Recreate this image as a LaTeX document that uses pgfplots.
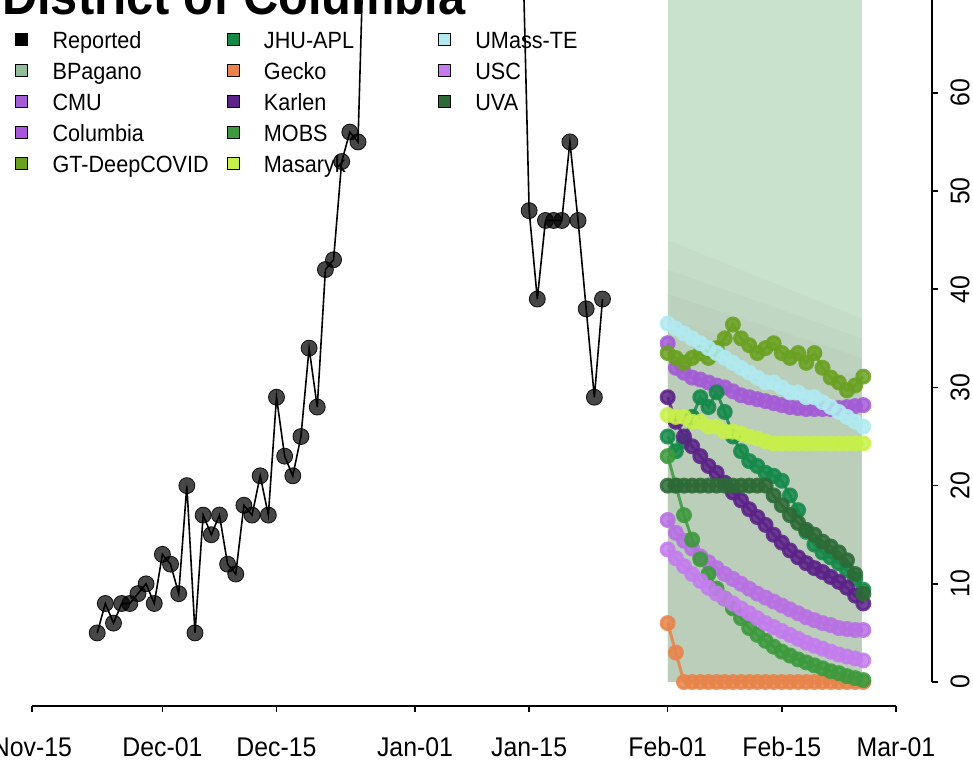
\documentclass[border=0pt]{standalone}
\usepackage{fontspec}
\setmainfont{Liberation Sans}[FakeStretch=0.92]
\usepackage{pgfplots}
\pgfplotsset{compat=1.18}

\definecolor{cBPag}{HTML}{93BD98}
\definecolor{cCMU}{HTML}{A35CD6}
\definecolor{cCol}{HTML}{A857DB}
\definecolor{cColL}{HTML}{B870E4}
\definecolor{cGT}{HTML}{6AA121}
\definecolor{cJHU}{HTML}{15894A}
\definecolor{cGecko}{HTML}{E8844A}
\definecolor{cKarlen}{HTML}{5B2288}
\definecolor{cMOBS}{HTML}{3D9A3D}
\definecolor{cMas}{HTML}{C8F04A}
\definecolor{cUMass}{HTML}{B0EAF0}
\definecolor{cUSC}{HTML}{C47CEE}
\definecolor{cUVA}{HTML}{2D6A36}
\definecolor{bandtop}{HTML}{C8E2CE}
\definecolor{bandlow}{HTML}{A8B49F}

\newcommand{\E}[1]{\makebox[199pt][l]{\hspace*{25pt}\rule[-3pt]{0pt}{23pt}\smash{#1}}}

\begin{document}
\begin{tikzpicture}[x=1pt,y=1pt]
\useasboundingbox (0,0) rectangle (973,772);
\clip (0,0) rectangle (973,772);
\begin{axis}[
  at={(32pt,66pt)}, anchor=south west,
  width=900pt, height=706pt, scale only axis,
  xmin=0, xmax=110.43, ymin=-2.44, ymax=69.45,
  clip=false,
  axis line style={draw=none},
  xtick={0,16,30,47,61,78,92,106},
  xticklabels={Nov-15,Dec-01,Dec-15,Jan-01,Jan-15,Feb-01,Feb-15,Mar-01},
  ytick={0,10,20,30,40,50,60},
  yticklabels={0,10,20,30,40,50,60},
  xtick pos=left, ytick pos=right,
  xticklabel pos=left, yticklabel pos=right,
  tick align=outside, major tick length=6pt,
  tick style={black, line width=1.5pt},
  xticklabel style={font=\fontsize{27}{27}\selectfont, anchor=center, yshift=-35pt},
  yticklabel style={font=\fontsize{27}{27}\selectfont, anchor=center, xshift=22pt, rotate=90},
  legend columns=3,
  legend cell align=left,
  legend style={at={(axis description cs:-0.0189,0.9600)}, anchor=north west,
    draw=none, fill=none, inner sep=0pt, column sep=0pt, row sep=9.5pt,
    nodes={inner sep=0pt}, font=\fontsize{23.5}{23.5}\selectfont},
  legend image code/.code={\fill[#1] (0pt,-6pt) rectangle (12pt,6pt);},
]
% forecast shading
\addplot[draw=none, fill=bandtop, forget plot] coordinates {(78,0) (101.8,0) (101.8,69.45) (78,69.45)};
\addplot[draw=none, fill=bandlow, fill opacity=0.12, forget plot] coordinates {(78,0) (101.8,0) (101.8,37) (78,45)};
\addplot[draw=none, fill=bandlow, fill opacity=0.12, forget plot] coordinates {(78,0) (101.8,0) (101.8,35) (78,42)};
\addplot[draw=none, fill=bandlow, fill opacity=0.12, forget plot] coordinates {(78,0) (101.8,0) (101.8,33) (78,39.5)};
\addplot[draw=none, fill=bandlow, fill opacity=0.12, forget plot] coordinates {(78,0) (101.8,0) (101.8,31) (78,37)};

% reported
\addplot[black, line width=1.6pt, mark=*, mark size=8pt,
  mark options={fill=black, fill opacity=0.72, draw=black, draw opacity=0.9, line width=0.8pt}, forget plot]
coordinates {
(8,5) (9,8) (10,6) (11,8) (12,8) (13,9) (14,10) (15,8) (16,13) (17,12) (18,9) (19,20) (20,5)
(21,17) (22,15) (23,17) (24,12) (25,11) (26,18) (27,17) (28,21) (29,17) (30,29) (31,23) (32,21)
(33,25) (34,34) (35,28) (36,42) (37,43) (38,53) (39,56) (40,55) (41,84) (60,82)
(61,48) (62,39) (63,47) (64,47) (65,47) (66,55) (67,47) (68,38) (69,29) (70,39)
};

% forecasts
\addplot[cCMU, line width=3pt, mark=*, mark size=6.5pt, opacity=0.85, forget plot] coordinates {
(78,34.5) (79,32) (80,31.5) (81,31) (82,30.8) (83,30.5) (84,30.2) (85,30) (86,29.6) (87,29.2)
(88,29) (89,28.8) (90,28.6) (91,28.4) (92,28.2) (93,28) (94,27.9) (95,27.8) (96,27.8) (97,27.8)
(98,27.8) (99,27.9) (100,28) (101,28.1) (102,28.2)};
\addplot[cColL, line width=3pt, mark=*, mark size=6.5pt, opacity=0.85, forget plot] coordinates {
(78,16.5) (79,15.2) (80,14.4) (81,13.6) (82,12.8) (83,12.2) (84,11.6) (85,11) (86,10.5) (87,10)
(88,9.5) (89,9) (90,8.6) (91,8.2) (92,7.8) (93,7.4) (94,7) (95,6.6) (96,6.3) (97,6)
(98,5.8) (99,5.5) (100,5.4) (101,5.3) (102,5.3)};
\addplot[cGT, line width=3pt, mark=*, mark size=6.5pt, opacity=0.85, forget plot] coordinates {
(78,33.5) (79,33) (80,32.5) (81,33) (82,33.5) (83,33) (84,34) (85,35) (86,36.4) (87,35)
(88,34.3) (89,33.5) (90,34) (91,34.5) (92,33.5) (93,33) (94,33.5) (95,32.5) (96,33.5) (97,32)
(98,31) (99,30.5) (100,29.7) (101,30.2) (102,31.1)};
\addplot[cJHU, line width=3pt, mark=*, mark size=6.5pt, opacity=0.85, forget plot] coordinates {
(78,25) (79,23.5) (80,24.5) (81,27) (82,29) (83,28) (84,29.5) (85,27.5) (86,25) (87,23.5)
(88,22.5) (89,22) (90,21.3) (91,21) (92,20.5) (93,19) (94,17.5) (95,15.3) (96,14) (97,13.2)
(98,12.7) (99,12.1) (100,11.4) (101,10.5) (102,9.4)};
\addplot[cGecko, line width=3pt, mark=*, mark size=6.5pt, opacity=0.85, forget plot] coordinates {
(78,6) (79,3) (80,0) (81,0) (82,0) (83,0) (84,0) (85,0) (86,0) (87,0)
(88,0) (89,0) (90,0) (91,0) (92,0) (93,0) (94,0) (95,0) (96,0) (97,0)
(98,0) (99,0) (100,0) (101,0) (102,0)};
\addplot[cKarlen, line width=3pt, mark=*, mark size=6.5pt, opacity=0.85, forget plot] coordinates {
(78,29) (79,26.5) (80,25) (81,24) (82,23) (83,22) (84,21.3) (85,20.3) (86,19.3) (87,18.5)
(88,17.6) (89,16.8) (90,16) (91,15) (92,14.2) (93,13.4) (94,12.7) (95,12.1) (96,11.6) (97,11.2)
(98,10.7) (99,10.2) (100,9.6) (101,8.8) (102,8)};
\addplot[cMOBS, line width=3pt, mark=*, mark size=6.5pt, opacity=0.85, forget plot] coordinates {
(78,23) (79,20) (80,17) (81,14.5) (82,12.5) (83,11) (84,9.5) (85,8.5) (86,7.5) (87,6.5)
(88,5.5) (89,4.8) (90,4.2) (91,3.6) (92,3.1) (93,2.7) (94,2.3) (95,2) (96,1.7) (97,1.4)
(98,1.1) (99,0.9) (100,0.6) (101,0.4) (102,0.2)};
\addplot[cMas, line width=3pt, mark=*, mark size=6.5pt, opacity=0.85, forget plot] coordinates {
(78,27.2) (79,27) (80,27) (81,26.5) (82,26.5) (83,26) (84,26) (85,25.5) (86,25.5) (87,25.3)
(88,25) (89,24.8) (90,24.5) (91,24.3) (92,24.3) (93,24.3) (94,24.3) (95,24.3) (96,24.3) (97,24.3)
(98,24.3) (99,24.3) (100,24.3) (101,24.3) (102,24.3)};
\addplot[cUMass, line width=3pt, mark=*, mark size=6.5pt, opacity=0.85, forget plot] coordinates {
(78,36.5) (79,36) (80,35.5) (81,35) (82,34.5) (83,34) (84,33.5) (85,33) (86,32.5) (87,32)
(88,31.5) (89,31) (90,30.5) (91,30.5) (92,30) (93,29.5) (94,29.5) (95,29) (96,29) (97,28.5)
(98,28) (99,27.5) (100,27) (101,26.5) (102,26)};
\addplot[cUSC, line width=3pt, mark=*, mark size=6.5pt, opacity=0.85, forget plot] coordinates {
(78,13.5) (79,12.6) (80,11.8) (81,11) (82,10.3) (83,9.6) (84,9) (85,8.5) (86,8) (87,7.5)
(88,7) (89,6.5) (90,6) (91,5.6) (92,5.2) (93,4.8) (94,4.4) (95,4) (96,3.7) (97,3.4)
(98,3.1) (99,2.8) (100,2.6) (101,2.4) (102,2.2)};
\addplot[cUVA, line width=3pt, mark=*, mark size=6.5pt, opacity=0.85, forget plot] coordinates {
(78,20) (79,20) (80,20) (81,20) (82,20) (83,20) (84,20) (85,20) (86,20) (87,20)
(88,20) (89,20) (90,20) (91,19) (92,18) (93,17) (94,16.2) (95,15.5) (96,15) (97,14.3)
(98,13.8) (99,13.2) (100,12.4) (101,11) (102,9)};

% axis lines
\draw[line width=2pt] (axis cs:0,-2.44) -- (axis cs:106,-2.44);
\draw[line width=2pt] (axis cs:110.43,0) -- (axis cs:110.43,75);

% legend (row-major order reproducing the 3-column layout)
\addlegendimage{fill=black}\addlegendentry{\E{Reported}}
\addlegendimage{fill=cJHU}\addlegendentry{\E{JHU-APL}}
\addlegendimage{fill=cUMass}\addlegendentry{\E{UMass-TE}}
\addlegendimage{fill=cBPag}\addlegendentry{\E{BPagano}}
\addlegendimage{fill=cGecko}\addlegendentry{\E{Gecko}}
\addlegendimage{fill=cUSC}\addlegendentry{\E{USC}}
\addlegendimage{fill=cCMU}\addlegendentry{\E{CMU}}
\addlegendimage{fill=cKarlen}\addlegendentry{\E{Karlen}}
\addlegendimage{fill=cUVA}\addlegendentry{\E{UVA}}
\addlegendimage{fill=cCol}\addlegendentry{\E{Columbia}}
\addlegendimage{fill=cMOBS}\addlegendentry{\E{MOBS}}
\addlegendimage{empty legend}\addlegendentry{\E{}}
\addlegendimage{fill=cGT}\addlegendentry{\E{GT-DeepCOVID}}
\addlegendimage{fill=cMas}\addlegendentry{\E{Masaryk}}
\end{axis}
\node[anchor=base west, inner sep=0pt, font=\bfseries\fontsize{53}{53}\selectfont] at (2,757) {District of Columbia};
\end{tikzpicture}
\end{document}
